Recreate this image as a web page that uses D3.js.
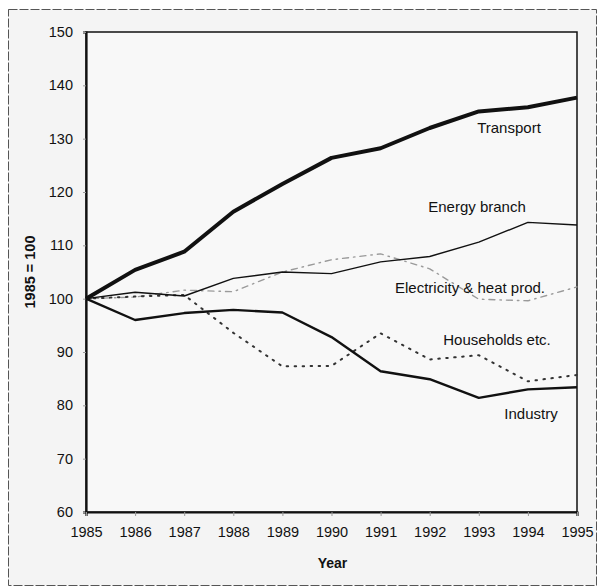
<!DOCTYPE html>
<html>
<head>
<meta charset="utf-8">
<script src="https://cdn.jsdelivr.net/npm/d3@7"></script>
<style>
  body { margin: 0; background: #fff; }
  svg { display: block; font-family: "Liberation Sans", Arial, sans-serif; }
</style>
</head>
<body>
<div id="chart"></div>
<script>
// data (index, 1985 = 100)
var years = [1985, 1986, 1987, 1988, 1989, 1990, 1991, 1992, 1993, 1994, 1995];
var transport   = [100, 105.4, 108.8, 116.3, 121.5, 126.4, 128.2, 132.0, 135.1, 135.9, 137.7];
var energy      = [100, 101.2, 100.5, 103.8, 105.0, 104.7, 106.9, 107.9, 110.6, 114.3, 113.8];
var electricity = [100, 100.3, 101.6, 101.3, 105.0, 107.3, 108.4, 105.6, 99.9, 99.6, 102.2];
var households  = [100, 100.4, 100.7, 93.6, 87.3, 87.4, 93.5, 88.6, 89.4, 84.5, 85.7];
var industry    = [100, 96.0, 97.3, 97.9, 97.4, 92.8, 86.4, 84.9, 81.4, 83.0, 83.4];
var yTicks = [60, 70, 80, 90, 100, 110, 120, 130, 140, 150];

var series = [
  {name: "Electricity & heat prod.", values: electricity, color: "#9a9a9a", width: 1.4, dash: "6,5,1.5,5", lx: 470, ly: 288},
  {name: "Households etc.", values: households, color: "#333", width: 2, dash: "1.5,6.5", lx: 497, ly: 340},
  {name: "Energy branch", values: energy, color: "#111", width: 1.4, dash: null, lx: 477, ly: 207},
  {name: "Industry", values: industry, color: "#111", width: 2.4, dash: null, lx: 531, ly: 414},
  {name: "Transport", values: transport, color: "#111", width: 4, dash: null, lx: 509, ly: 128}
];

var W = 599, H = 588;
var margin = {top: 32, right: 22, bottom: 76, left: 86};
var width = W - margin.left - margin.right,
    height = H - margin.top - margin.bottom;

var svg = d3.select("#chart").append("svg")
    .attr("width", W)
    .attr("height", H);

// outer frame
svg.append("rect")
    .attr("x", 8.5).attr("y", 9.5)
    .attr("width", W - 11).attr("height", H - 12)
    .attr("fill", "#f4f4f4")
    .attr("stroke", "#555")
    .attr("stroke-width", 1)
    .attr("stroke-dasharray", "9,2");

var g = svg.append("g")
    .attr("transform", "translate(" + margin.left + "," + margin.top + ")");

var x = d3.scaleLinear()
    .domain([1985, 1995])
    .range([0, width]);

var y = d3.scaleLinear()
    .domain([60, 150])
    .range([height, 0]);

// plot area
g.append("rect")
    .attr("width", width).attr("height", height)
    .attr("fill", "#f8f8f8")
    .attr("stroke", "#111")
    .attr("stroke-width", 1.5);

// axes
var yAxis = g.append("g")
    .call(d3.axisLeft(y).tickValues(yTicks).tickSize(3).tickPadding(10).tickFormat(d3.format("d")));
var xAxis = g.append("g")
    .attr("transform", "translate(0," + height + ")")
    .call(d3.axisBottom(x).tickValues(years).tickSize(4).tickPadding(11).tickFormat(d3.format("d")));

[xAxis, yAxis].forEach(function(a) {
  a.select(".domain").attr("stroke", "#111").attr("stroke-width", 2.2);
  a.selectAll(".tick line").attr("stroke", "#999");
  a.selectAll(".tick text")
    .attr("fill", "#111")
    .style("font-size", "14.5px")
    .style("font-family", "'Liberation Sans', Arial, sans-serif");
});

// lines
var line = d3.line()
    .x(function(d, i) { return x(years[i]); })
    .y(function(d) { return y(d); });

g.selectAll(".series")
  .data(series)
  .enter().append("path")
    .attr("class", "series")
    .attr("d", function(d) { return line(d.values); })
    .attr("fill", "none")
    .attr("stroke", function(d) { return d.color; })
    .attr("stroke-width", function(d) { return d.width; })
    .attr("stroke-dasharray", function(d) { return d.dash; })
    .attr("stroke-linejoin", "round")
    .attr("stroke-linecap", function(d) { return d.dash ? "round" : "butt"; });

// series labels
svg.selectAll(".lab")
  .data(series)
  .enter().append("text")
    .attr("class", "lab")
    .attr("x", function(d) { return d.lx; })
    .attr("y", function(d) { return d.ly; })
    .attr("dy", "0.35em")
    .attr("text-anchor", "middle")
    .style("font-size", "15px")
    .attr("fill", "#111")
    .text(function(d) { return d.name; });

// axis titles
svg.append("text")
    .attr("x", margin.left + width / 2 + 1)
    .attr("y", 563)
    .attr("dy", "0.35em")
    .attr("text-anchor", "middle")
    .style("font-size", "14px")
    .style("font-weight", "bold")
    .attr("fill", "#111")
    .text("Year");

svg.append("text")
    .attr("transform", "translate(30," + (margin.top + height / 2) + ") rotate(-90)")
    .attr("dy", "0.35em")
    .attr("text-anchor", "middle")
    .style("font-size", "14.5px")
    .style("font-weight", "bold")
    .attr("fill", "#111")
    .text("1985 = 100");
</script>
</body>
</html>
